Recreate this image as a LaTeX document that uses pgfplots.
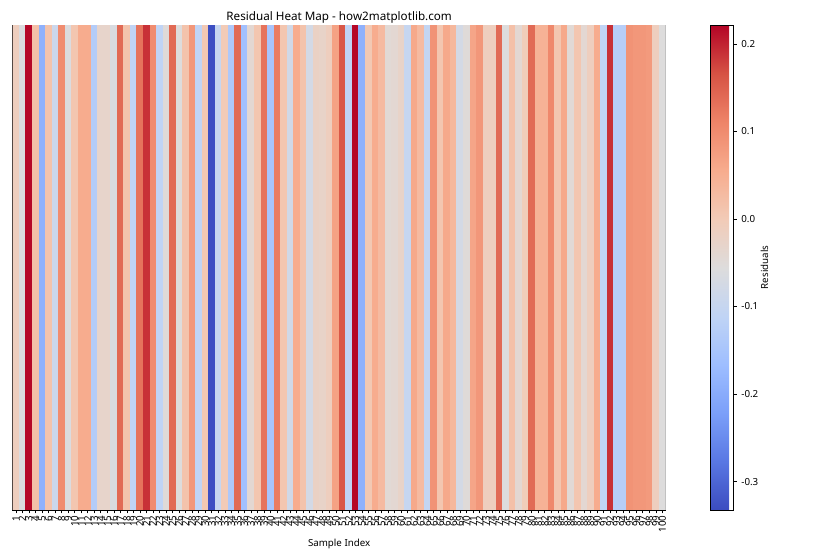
\documentclass[border=0pt]{standalone}
\usepackage{fontspec}
\setmainfont{Noto Sans}
\usepackage{pgfplots}
\pgfplotsset{compat=1.18}
\pgfplotsset{
  colormap={coolwarm}{rgb255=(59,76,192) rgb255=(89,119,227) rgb255=(123,159,249) rgb255=(158,190,255) rgb255=(192,212,245) rgb255=(221,220,220) rgb255=(242,203,183) rgb255=(247,172,142) rgb255=(238,132,104) rgb255=(214,82,68) rgb255=(180,4,38)},
  colorbar shift/.style={xshift=31.7pt},
}
\begin{document}
\begin{tikzpicture}
\path[use as bounding box] (0,0) rectangle (630pt,420pt);
\begin{axis}[
  at={(9.5pt,37.5pt)}, anchor=south west,
  scale only axis, width=489.75pt, height=363.75pt,
  xmin=0.5, xmax=100.5, ymin=0, ymax=1,
  xtick={1,...,100}, ytick=\empty,
  xtick pos=left,
  tick align=outside, major tick length=2.6pt,
  tick style={line width=0.55pt, black},
  axis line style={line width=0.6pt, black},
  /pgf/number format/assume math mode=true,
  xticklabel style={rotate=90, anchor=east, font=\fontsize{7.3}{8}\selectfont, inner sep=1.5pt},
  xlabel={Sample Index},
  xlabel style={font=\fontsize{7.3}{8}\selectfont},
  title={Residual Heat Map - how2matplotlib.com},
  title style={font=\fontsize{8.75}{10}\selectfont, at={(0.5,1)}, anchor=south, yshift=-8.5pt},
  colormap name=coolwarm,
  colorbar,
  point meta min=-0.3325, point meta max=0.2217,
  colorbar style={
    width=17.25pt,
    ytick={-0.3,-0.2,-0.1,0,0.1,0.2},
    ytick pos=right,
    yticklabel style={font=\fontsize{7.3}{8}\selectfont, /pgf/number format/.cd, fixed, fixed zerofill, precision=1, assume math mode=true},
    tick align=outside, major tick length=2.6pt,
    tick style={line width=0.55pt, black},
    axis line style={line width=0.6pt, black},
    yticklabel pos=right,
    ylabel={Residuals},
    ylabel near ticks,
    ylabel style={font=\fontsize{7.3}{8}\selectfont, yshift=5pt},
  },
]
\addplot[patch, patch type=rectangle, shader=flat, point meta=explicit] coordinates {
(0.5,0)[-0.01] (1.5,0)[-0.01] (1.5,1)[-0.01] (0.5,1)[-0.01]
(1.5,0)[-0.06] (2.5,0)[-0.06] (2.5,1)[-0.06] (1.5,1)[-0.06]
(2.5,0)[0.22] (3.5,0)[0.22] (3.5,1)[0.22] (2.5,1)[0.22]
(3.5,0)[0.02] (4.5,0)[0.02] (4.5,1)[0.02] (3.5,1)[0.02]
(4.5,0)[-0.19] (5.5,0)[-0.19] (5.5,1)[-0.19] (4.5,1)[-0.19]
(5.5,0)[0.015] (6.5,0)[0.015] (6.5,1)[0.015] (5.5,1)[0.015]
(6.5,0)[-0.09] (7.5,0)[-0.09] (7.5,1)[-0.09] (6.5,1)[-0.09]
(7.5,0)[0.10] (8.5,0)[0.10] (8.5,1)[0.10] (7.5,1)[0.10]
(8.5,0)[-0.06] (9.5,0)[-0.06] (9.5,1)[-0.06] (8.5,1)[-0.06]
(9.5,0)[0.01] (10.5,0)[0.01] (10.5,1)[0.01] (9.5,1)[0.01]
(10.5,0)[0.055] (11.5,0)[0.055] (11.5,1)[0.055] (10.5,1)[0.055]
(11.5,0)[0.055] (12.5,0)[0.055] (12.5,1)[0.055] (11.5,1)[0.055]
(12.5,0)[-0.13] (13.5,0)[-0.13] (13.5,1)[-0.13] (12.5,1)[-0.13]
(13.5,0)[-0.03] (14.5,0)[-0.03] (14.5,1)[-0.03] (13.5,1)[-0.03]
(14.5,0)[-0.03] (15.5,0)[-0.03] (15.5,1)[-0.03] (14.5,1)[-0.03]
(15.5,0)[-0.065] (16.5,0)[-0.065] (16.5,1)[-0.065] (15.5,1)[-0.065]
(16.5,0)[0.14] (17.5,0)[0.14] (17.5,1)[0.14] (16.5,1)[0.14]
(17.5,0)[0.015] (18.5,0)[0.015] (18.5,1)[0.015] (17.5,1)[0.015]
(18.5,0)[-0.11] (19.5,0)[-0.11] (19.5,1)[-0.11] (18.5,1)[-0.11]
(19.5,0)[0.13] (20.5,0)[0.13] (20.5,1)[0.13] (19.5,1)[0.13]
(20.5,0)[0.19] (21.5,0)[0.19] (21.5,1)[0.19] (20.5,1)[0.19]
(21.5,0)[0.10] (22.5,0)[0.10] (22.5,1)[0.10] (21.5,1)[0.10]
(22.5,0)[-0.11] (23.5,0)[-0.11] (23.5,1)[-0.11] (22.5,1)[-0.11]
(23.5,0)[-0.05] (24.5,0)[-0.05] (24.5,1)[-0.05] (23.5,1)[-0.05]
(24.5,0)[0.14] (25.5,0)[0.14] (25.5,1)[0.14] (24.5,1)[0.14]
(25.5,0)[-0.055] (26.5,0)[-0.055] (26.5,1)[-0.055] (25.5,1)[-0.055]
(26.5,0)[0.015] (27.5,0)[0.015] (27.5,1)[0.015] (26.5,1)[0.015]
(27.5,0)[0.085] (28.5,0)[0.085] (28.5,1)[0.085] (27.5,1)[0.085]
(28.5,0)[-0.11] (29.5,0)[-0.11] (29.5,1)[-0.11] (28.5,1)[-0.11]
(29.5,0)[0.005] (30.5,0)[0.005] (30.5,1)[0.005] (29.5,1)[0.005]
(30.5,0)[-0.33] (31.5,0)[-0.33] (31.5,1)[-0.33] (30.5,1)[-0.33]
(31.5,0)[-0.10] (32.5,0)[-0.10] (32.5,1)[-0.10] (31.5,1)[-0.10]
(32.5,0)[0.0] (33.5,0)[0.0] (33.5,1)[0.0] (32.5,1)[0.0]
(33.5,0)[-0.14] (34.5,0)[-0.14] (34.5,1)[-0.14] (33.5,1)[-0.14]
(34.5,0)[0.14] (35.5,0)[0.14] (35.5,1)[0.14] (34.5,1)[0.14]
(35.5,0)[-0.16] (36.5,0)[-0.16] (36.5,1)[-0.16] (35.5,1)[-0.16]
(36.5,0)[-0.04] (37.5,0)[-0.04] (37.5,1)[-0.04] (36.5,1)[-0.04]
(37.5,0)[0.01] (38.5,0)[0.01] (38.5,1)[0.01] (37.5,1)[0.01]
(38.5,0)[0.13] (39.5,0)[0.13] (39.5,1)[0.13] (38.5,1)[0.13]
(39.5,0)[-0.15] (40.5,0)[-0.15] (40.5,1)[-0.15] (39.5,1)[-0.15]
(40.5,0)[0.12] (41.5,0)[0.12] (41.5,1)[0.12] (40.5,1)[0.12]
(41.5,0)[0.01] (42.5,0)[0.01] (42.5,1)[0.01] (41.5,1)[0.01]
(42.5,0)[-0.08] (43.5,0)[-0.08] (43.5,1)[-0.08] (42.5,1)[-0.08]
(43.5,0)[0.055] (44.5,0)[0.055] (44.5,1)[0.055] (43.5,1)[0.055]
(44.5,0)[0.015] (45.5,0)[0.015] (45.5,1)[0.015] (44.5,1)[0.015]
(45.5,0)[-0.075] (46.5,0)[-0.075] (46.5,1)[-0.075] (45.5,1)[-0.075]
(46.5,0)[-0.02] (47.5,0)[-0.02] (47.5,1)[-0.02] (46.5,1)[-0.02]
(47.5,0)[-0.025] (48.5,0)[-0.025] (48.5,1)[-0.025] (47.5,1)[-0.025]
(48.5,0)[-0.01] (49.5,0)[-0.01] (49.5,1)[-0.01] (48.5,1)[-0.01]
(49.5,0)[0.07] (50.5,0)[0.07] (50.5,1)[0.07] (49.5,1)[0.07]
(50.5,0)[0.16] (51.5,0)[0.16] (51.5,1)[0.16] (50.5,1)[0.16]
(51.5,0)[-0.11] (52.5,0)[-0.11] (52.5,1)[-0.11] (51.5,1)[-0.11]
(52.5,0)[0.22] (53.5,0)[0.22] (53.5,1)[0.22] (52.5,1)[0.22]
(53.5,0)[-0.19] (54.5,0)[-0.19] (54.5,1)[-0.19] (53.5,1)[-0.19]
(54.5,0)[0.005] (55.5,0)[0.005] (55.5,1)[0.005] (54.5,1)[0.005]
(55.5,0)[0.055] (56.5,0)[0.055] (56.5,1)[0.055] (55.5,1)[0.055]
(56.5,0)[0.03] (57.5,0)[0.03] (57.5,1)[0.03] (56.5,1)[0.03]
(57.5,0)[-0.045] (58.5,0)[-0.045] (58.5,1)[-0.045] (57.5,1)[-0.045]
(58.5,0)[-0.04] (59.5,0)[-0.04] (59.5,1)[-0.04] (58.5,1)[-0.04]
(59.5,0)[-0.025] (60.5,0)[-0.025] (60.5,1)[-0.025] (59.5,1)[-0.025]
(60.5,0)[-0.10] (61.5,0)[-0.10] (61.5,1)[-0.10] (60.5,1)[-0.10]
(61.5,0)[0.06] (62.5,0)[0.06] (62.5,1)[0.06] (61.5,1)[0.06]
(62.5,0)[0.03] (63.5,0)[0.03] (63.5,1)[0.03] (62.5,1)[0.03]
(63.5,0)[-0.105] (64.5,0)[-0.105] (64.5,1)[-0.105] (63.5,1)[-0.105]
(64.5,0)[0.09] (65.5,0)[0.09] (65.5,1)[0.09] (64.5,1)[0.09]
(65.5,0)[0.01] (66.5,0)[0.01] (66.5,1)[0.01] (65.5,1)[0.01]
(66.5,0)[0.06] (67.5,0)[0.06] (67.5,1)[0.06] (66.5,1)[0.06]
(67.5,0)[0.035] (68.5,0)[0.035] (68.5,1)[0.035] (67.5,1)[0.035]
(68.5,0)[-0.075] (69.5,0)[-0.075] (69.5,1)[-0.075] (68.5,1)[-0.075]
(69.5,0)[-0.05] (70.5,0)[-0.05] (70.5,1)[-0.05] (69.5,1)[-0.05]
(70.5,0)[0.065] (71.5,0)[0.065] (71.5,1)[0.065] (70.5,1)[0.065]
(71.5,0)[0.085] (72.5,0)[0.085] (72.5,1)[0.085] (71.5,1)[0.085]
(72.5,0)[-0.01] (73.5,0)[-0.01] (73.5,1)[-0.01] (72.5,1)[-0.01]
(73.5,0)[-0.01] (74.5,0)[-0.01] (74.5,1)[-0.01] (73.5,1)[-0.01]
(74.5,0)[0.14] (75.5,0)[0.14] (75.5,1)[0.14] (74.5,1)[0.14]
(75.5,0)[-0.055] (76.5,0)[-0.055] (76.5,1)[-0.055] (75.5,1)[-0.055]
(76.5,0)[0.02] (77.5,0)[0.02] (77.5,1)[0.02] (76.5,1)[0.02]
(77.5,0)[-0.04] (78.5,0)[-0.04] (78.5,1)[-0.04] (77.5,1)[-0.04]
(78.5,0)[-0.005] (79.5,0)[-0.005] (79.5,1)[-0.005] (78.5,1)[-0.005]
(79.5,0)[0.14] (80.5,0)[0.14] (80.5,1)[0.14] (79.5,1)[0.14]
(80.5,0)[0.045] (81.5,0)[0.045] (81.5,1)[0.045] (80.5,1)[0.045]
(81.5,0)[0.045] (82.5,0)[0.045] (82.5,1)[0.045] (81.5,1)[0.045]
(82.5,0)[0.105] (83.5,0)[0.105] (83.5,1)[0.105] (82.5,1)[0.105]
(83.5,0)[0.01] (84.5,0)[0.01] (84.5,1)[0.01] (83.5,1)[0.01]
(84.5,0)[0.06] (85.5,0)[0.06] (85.5,1)[0.06] (84.5,1)[0.06]
(85.5,0)[-0.045] (86.5,0)[-0.045] (86.5,1)[-0.045] (85.5,1)[-0.045]
(86.5,0)[0.01] (87.5,0)[0.01] (87.5,1)[0.01] (86.5,1)[0.01]
(87.5,0)[-0.04] (88.5,0)[-0.04] (88.5,1)[-0.04] (87.5,1)[-0.04]
(88.5,0)[-0.01] (89.5,0)[-0.01] (89.5,1)[-0.01] (88.5,1)[-0.01]
(89.5,0)[0.055] (90.5,0)[0.055] (90.5,1)[0.055] (89.5,1)[0.055]
(90.5,0)[-0.11] (91.5,0)[-0.11] (91.5,1)[-0.11] (90.5,1)[-0.11]
(91.5,0)[0.19] (92.5,0)[0.19] (92.5,1)[0.19] (91.5,1)[0.19]
(92.5,0)[-0.125] (93.5,0)[-0.125] (93.5,1)[-0.125] (92.5,1)[-0.125]
(93.5,0)[-0.125] (94.5,0)[-0.125] (94.5,1)[-0.125] (93.5,1)[-0.125]
(94.5,0)[0.09] (95.5,0)[0.09] (95.5,1)[0.09] (94.5,1)[0.09]
(95.5,0)[0.085] (96.5,0)[0.085] (96.5,1)[0.085] (95.5,1)[0.085]
(96.5,0)[0.085] (97.5,0)[0.085] (97.5,1)[0.085] (96.5,1)[0.085]
(97.5,0)[0.08] (98.5,0)[0.08] (98.5,1)[0.08] (97.5,1)[0.08]
(98.5,0)[-0.01] (99.5,0)[-0.01] (99.5,1)[-0.01] (98.5,1)[-0.01]
(99.5,0)[-0.055] (100.5,0)[-0.055] (100.5,1)[-0.055] (99.5,1)[-0.055]
};
\end{axis}
\end{tikzpicture}
\end{document}
